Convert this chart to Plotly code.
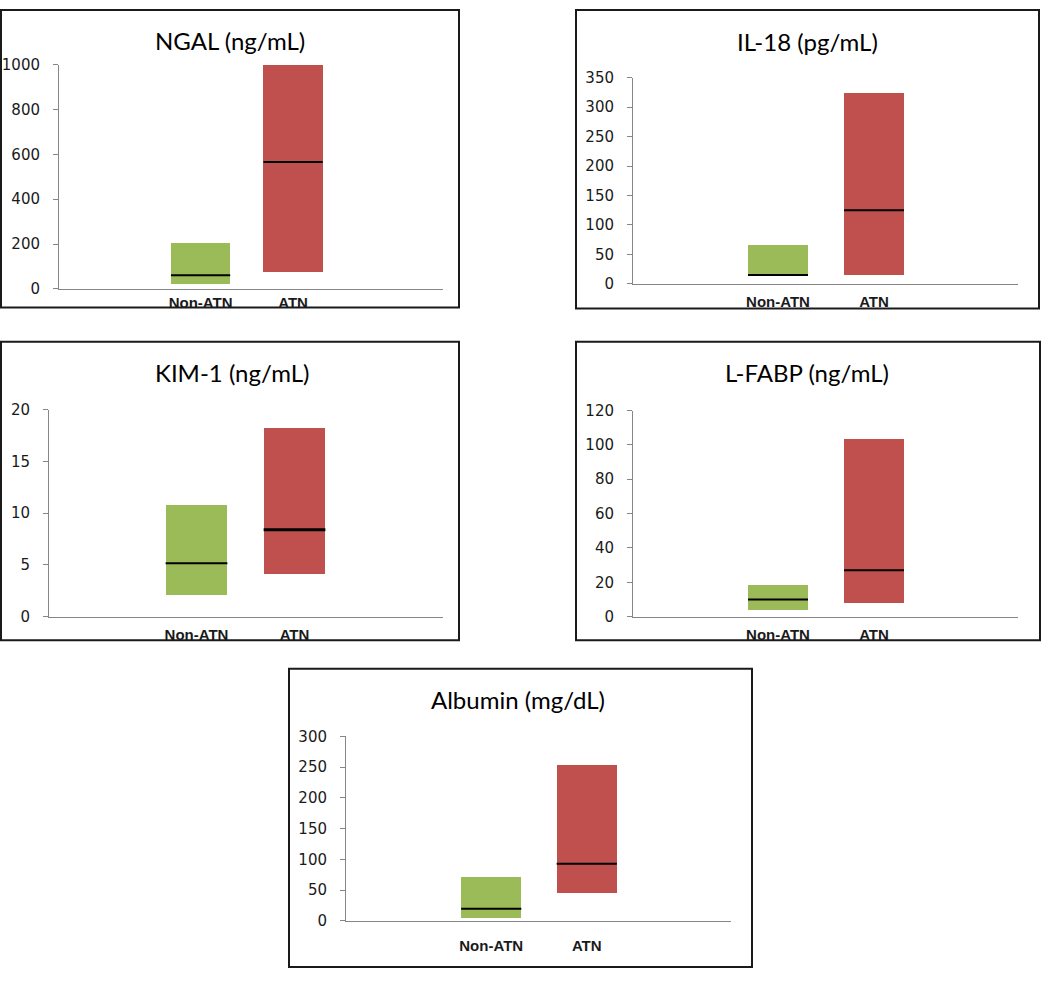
import plotly.graph_objects as go

# ---------------- data ----------------
categories = ["Non-ATN", "ATN"]

ngal_low = [20, 77]
ngal_high = [203, 1000]
ngal_median = [60, 566]

il18_low = [14, 16]
il18_high = [67, 325]
il18_median = [15, 125]

kim1_low = [2.1, 4.15]
kim1_high = [10.8, 18.3]
kim1_median = [5.15, 8.4]

lfabp_low = [4, 8]
lfabp_high = [19, 103.5]
lfabp_median = [10, 27]

albumin_low = [4, 44]
albumin_high = [71, 253]
albumin_median = [20, 93]

titles = ["NGAL (ng/mL)", "IL-18 (pg/mL)", "KIM-1 (ng/mL)", "L-FABP (ng/mL)", "Albumin (mg/dL)"]
y_max = [1000, 350, 20, 120, 300]
y_step = [200, 50, 5, 20, 50]

# ---------------- layout (page-pixel geometry) ----------------
W, H = 1050, 982
GREEN = "#9BBB59"
RED = "#C0504D"
AXIS_GRAY = "#868686"


def fx(px):
    return min(max(px, 1), W - 1) / W


def fy(py):
    return 1 - min(max(py, 1), H - 1) / H


panels = [
    dict(low=ngal_low, high=ngal_high, med=ngal_median,
         ax=(59, 443), ay=(285, 57), box=(1, 1, 459, 304), title=(230, 32),
         xr=(-1.53, 2.62), w=0.64, ticklen=0, standoff=10, medw=[2, 2]),
    dict(low=il18_low, high=il18_high, med=il18_median,
         ax=(633, 1018), ay=(280, 70), box=(576, 1, 1039, 305), title=(807, 33),
         xr=(-1.51, 2.50), w=0.625, ticklen=4, standoff=10, medw=[2, 2]),
    dict(low=kim1_low, high=kim1_high, med=kim1_median,
         ax=(49, 443), ay=(619, 408), box=(1, 339, 459, 643), title=(232, 370),
         xr=(-1.505, 2.515), w=0.63, ticklen=4, standoff=10, medw=[2, 3]),
    dict(low=lfabp_low, high=lfabp_high, med=lfabp_median,
         ax=(633, 1018), ay=(619, 409), box=(576, 339, 1040, 643), title=(807, 370),
         xr=(-1.51, 2.50), w=0.625, ticklen=4, standoff=10, medw=[2, 2]),
    dict(low=albumin_low, high=albumin_high, med=albumin_median,
         ax=(346, 731), ay=(929, 741), box=(289, 672, 752, 976), title=(518, 703),
         xr=(-1.52, 2.51), w=0.63, ticklen=11, standoff=10, medw=[2, 2]),
]

fig = go.Figure()
shapes = []
annotations = []
layout_axes = {}

positions = list(range(len(categories)))

for i, p in enumerate(panels):
    sfx = "" if i == 0 else str(i + 1)
    xref, yref = "x" + sfx, "y" + sfx

    spans = [h - l for h, l in zip(p["high"], p["low"])]
    fig.add_trace(go.Bar(
        x=positions, y=spans, base=p["low"], width=p["w"],
        marker=dict(color=[GREEN, RED], line=dict(width=0)),
        xaxis=xref, yaxis=yref, showlegend=False, hoverinfo="skip",
    ))
    for j, m in enumerate(p["med"]):
        fig.add_trace(go.Scatter(
            x=[positions[j] - p["w"] / 2, positions[j] + p["w"] / 2], y=[m, m],
            mode="lines", line=dict(color="black", width=p["medw"][j]),
            xaxis=xref, yaxis=yref, showlegend=False, hoverinfo="skip",
        ))

    layout_axes["xaxis" + sfx] = dict(
        domain=[fx(p["ax"][0]), fx(p["ax"][1])],
        range=list(p["xr"]), anchor=yref,
        showline=True, linecolor=AXIS_GRAY, linewidth=1,
        showgrid=False, zeroline=False,
        tickmode="array", tickvals=positions, ticktext=categories,
        ticks="outside" if p["ticklen"] > 0 else "", ticklen=max(p["ticklen"], 1),
        tickcolor="rgba(0,0,0,0)",
        tickfont=dict(family="Liberation Sans", size=15, color="#1a1a1a",
                      weight="bold"),
        fixedrange=True,
    )
    layout_axes["yaxis" + sfx] = dict(
        domain=[fy(p["ay"][0]), fy(p["ay"][1])],
        range=[0, y_max[i]], anchor=xref, dtick=y_step[i], tick0=0,
        showline=True, linecolor=AXIS_GRAY, linewidth=1,
        showgrid=False, zeroline=False,
        ticks="outside", ticklen=5, tickcolor=AXIS_GRAY,
        ticklabelstandoff=p["standoff"],
        tickfont=dict(family="DejaVu Sans", size=15, color="#1a1a1a"),
        fixedrange=True,
    )

    x0, y0, x1, y1 = p["box"]
    shapes.append(dict(type="rect", xref="paper", yref="paper",
                       x0=fx(x0), x1=fx(x1), y0=fy(y1), y1=fy(y0),
                       line=dict(color="#1a1a1a", width=2), fillcolor="rgba(0,0,0,0)",
                       layer="above"))
    tx, ty = p["title"]
    annotations.append(dict(text=titles[i], xref="paper", yref="paper",
                            x=fx(tx), y=fy(ty), xanchor="center", yanchor="middle",
                            showarrow=False,
                            font=dict(family="Lato", size=24, color="#000000")))

fig.update_layout(
    width=W, height=H, autosize=False,
    margin=dict(l=0, r=0, t=0, b=0, pad=0),
    paper_bgcolor="white", plot_bgcolor="white",
    shapes=shapes, annotations=annotations,
    bargap=0, showlegend=False,
    **layout_axes,
)

fig.write_html("out.html", config={"displayModeBar": False},
               post_script="document.body.style.margin='0';")
